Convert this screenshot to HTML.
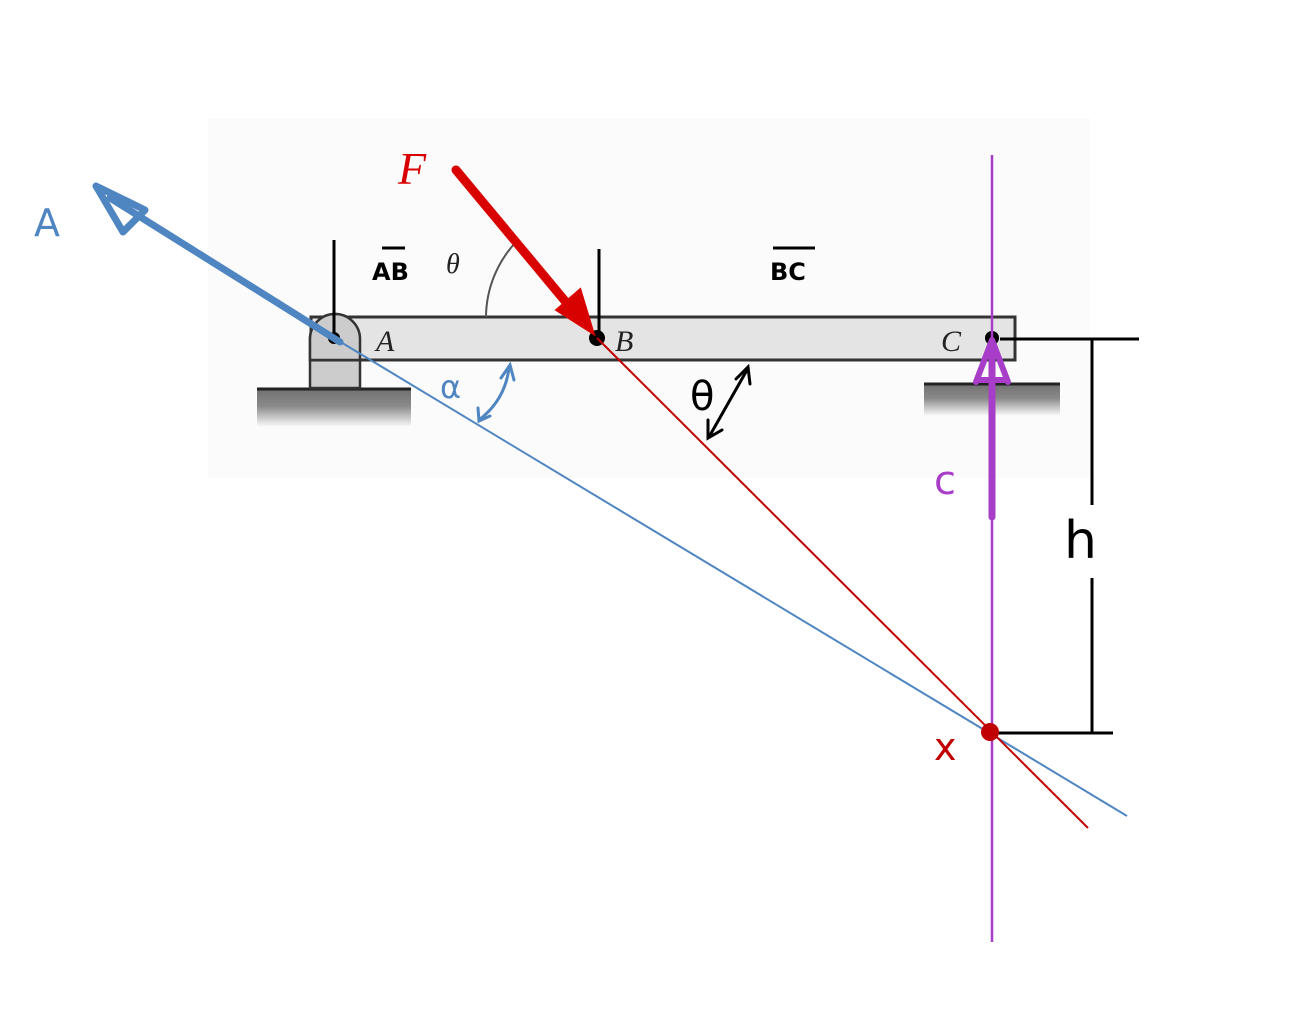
<!DOCTYPE html>
<html><head><meta charset="utf-8"><style>html,body{margin:0;padding:0;background:#fff}svg{display:block}</style></head>
<body>
<svg width="1312" height="1012" viewBox="0 0 1312 1012" xmlns="http://www.w3.org/2000/svg">
<defs>
<linearGradient id="g" x1="0" y1="0" x2="0" y2="1"><stop offset="0" stop-color="#707070"/><stop offset="0.45" stop-color="#8a8a8a"/><stop offset="1" stop-color="#fcfcfc"/></linearGradient>
</defs>
<rect x="208" y="118" width="882" height="360" fill="#fbfbfb"/>
<rect x="257" y="389" width="154" height="38" fill="url(#g)"/>
<line x1="257" y1="389" x2="411" y2="389" stroke="#222" stroke-width="3"/>
<rect x="924" y="384" width="136" height="32" fill="url(#g)"/>
<line x1="924" y1="384" x2="1060" y2="384" stroke="#222" stroke-width="3"/>
<path d="M310 388 V339 A25 25 0 0 1 360 339 V388 Z" fill="#ccc" stroke="#333" stroke-width="2.5"/>
<rect x="311" y="317" width="704" height="43" fill="#e4e4e4" stroke="#333" stroke-width="3"/>
<path d="M310 360 V339 A25 25 0 0 1 360 339 V360 Z" fill="#ccc" stroke="#333" stroke-width="2.5"/>
<path d="M486 317 A111 111 0 0 1 516 242" fill="none" stroke="#555" stroke-width="2"/>
<text x="446" y="273" font-family="Liberation Serif,serif" font-style="italic" font-size="28" fill="#222">θ</text>
<text x="376" y="351" font-family="Liberation Serif,serif" font-style="italic" font-size="30" fill="#222">A</text>
<text x="615" y="351" font-family="Liberation Serif,serif" font-style="italic" font-size="30" fill="#222">B</text>
<text x="941" y="351" font-family="Liberation Serif,serif" font-style="italic" font-size="30" fill="#222">C</text>
<line x1="334" y1="240" x2="334" y2="338" stroke="#000" stroke-width="3"/>
<line x1="599" y1="249" x2="599" y2="332" stroke="#000" stroke-width="3"/>
<circle cx="334" cy="338" r="6" fill="#000"/>
<circle cx="597" cy="338" r="8" fill="#000"/>
<circle cx="992" cy="338" r="7" fill="#000"/>
<line x1="334" y1="338" x2="1127" y2="816" stroke="#4f86c2" stroke-width="2"/>
<line x1="597" y1="338" x2="1088" y2="828" stroke="#c00000" stroke-width="2"/>
<line x1="992" y1="155" x2="992" y2="942" stroke="#a83ec8" stroke-width="2.5"/>
<line x1="340" y1="342" x2="110" y2="198" stroke="#4f86c2" stroke-width="7" stroke-linecap="round"/>
<path d="M96 186 L145 210 L123 232 Z" fill="none" stroke="#4f86c2" stroke-width="7" stroke-linejoin="round"/>
<text x="34" y="236" font-family="DejaVu Sans,sans-serif" font-size="38" fill="#4f86c2">A</text>
<line x1="456" y1="170" x2="570" y2="307" stroke="#d90000" stroke-width="9" stroke-linecap="round"/>
<path d="M593 333 L557 310 L580 290 Z" fill="#d90000" stroke="#d90000" stroke-width="3"/>
<text x="398" y="184" font-family="Liberation Serif,serif" font-style="italic" font-size="46" fill="#d90000">F</text>
<line x1="992" y1="517" x2="992" y2="350" stroke="#a83ec8" stroke-width="7" stroke-linecap="round"/>
<path d="M992 340 L976 382 M992 340 L1008 382 M980 380 L1006 380" stroke="#a83ec8" stroke-width="6" stroke-linecap="round" fill="none"/>
<text x="934" y="494" font-family="DejaVu Sans,sans-serif" font-size="40" fill="#a83ec8">c</text>
<text x="372" y="280" font-family="DejaVu Sans,sans-serif" font-weight="bold" font-size="24" fill="#000">AB</text>
<line x1="382" y1="248" x2="405" y2="248" stroke="#000" stroke-width="3"/>
<text x="770" y="280" font-family="DejaVu Sans,sans-serif" font-weight="bold" font-size="24" fill="#000">BC</text>
<line x1="773" y1="248" x2="815" y2="248" stroke="#000" stroke-width="3"/>
<text x="440" y="398" font-family="DejaVu Sans,sans-serif" font-size="32" fill="#4f86c2">α</text>
<path d="M509 368 Q505 400 479 420" fill="none" stroke="#4f86c2" stroke-width="3"/>
<path d="M501 378 L510 365 L514 380 M478 408 L479 421 L490 416" fill="none" stroke="#4f86c2" stroke-width="3" stroke-linecap="round"/>
<text x="690" y="410" font-family="DejaVu Sans,sans-serif" font-size="40" fill="#000">θ</text>
<line x1="747" y1="370" x2="709" y2="437" stroke="#000" stroke-width="3"/>
<path d="M736 379 L748 367 L750 384 M708 420 L708 438 L722 430" fill="none" stroke="#000" stroke-width="3" stroke-linecap="round"/>
<line x1="1000" y1="339" x2="1139" y2="339" stroke="#000" stroke-width="3"/>
<line x1="1092" y1="339" x2="1092" y2="505" stroke="#000" stroke-width="3"/>
<line x1="1092" y1="578" x2="1092" y2="733" stroke="#000" stroke-width="3"/>
<line x1="995" y1="733" x2="1113" y2="733" stroke="#000" stroke-width="3"/>
<text x="1064" y="558" font-family="DejaVu Sans,sans-serif" font-size="52" fill="#000">h</text>
<circle cx="990" cy="732" r="9" fill="#c00000"/>
<text x="934" y="760" font-family="DejaVu Sans,sans-serif" font-size="38" fill="#c00000">x</text>
</svg>
</body></html>
